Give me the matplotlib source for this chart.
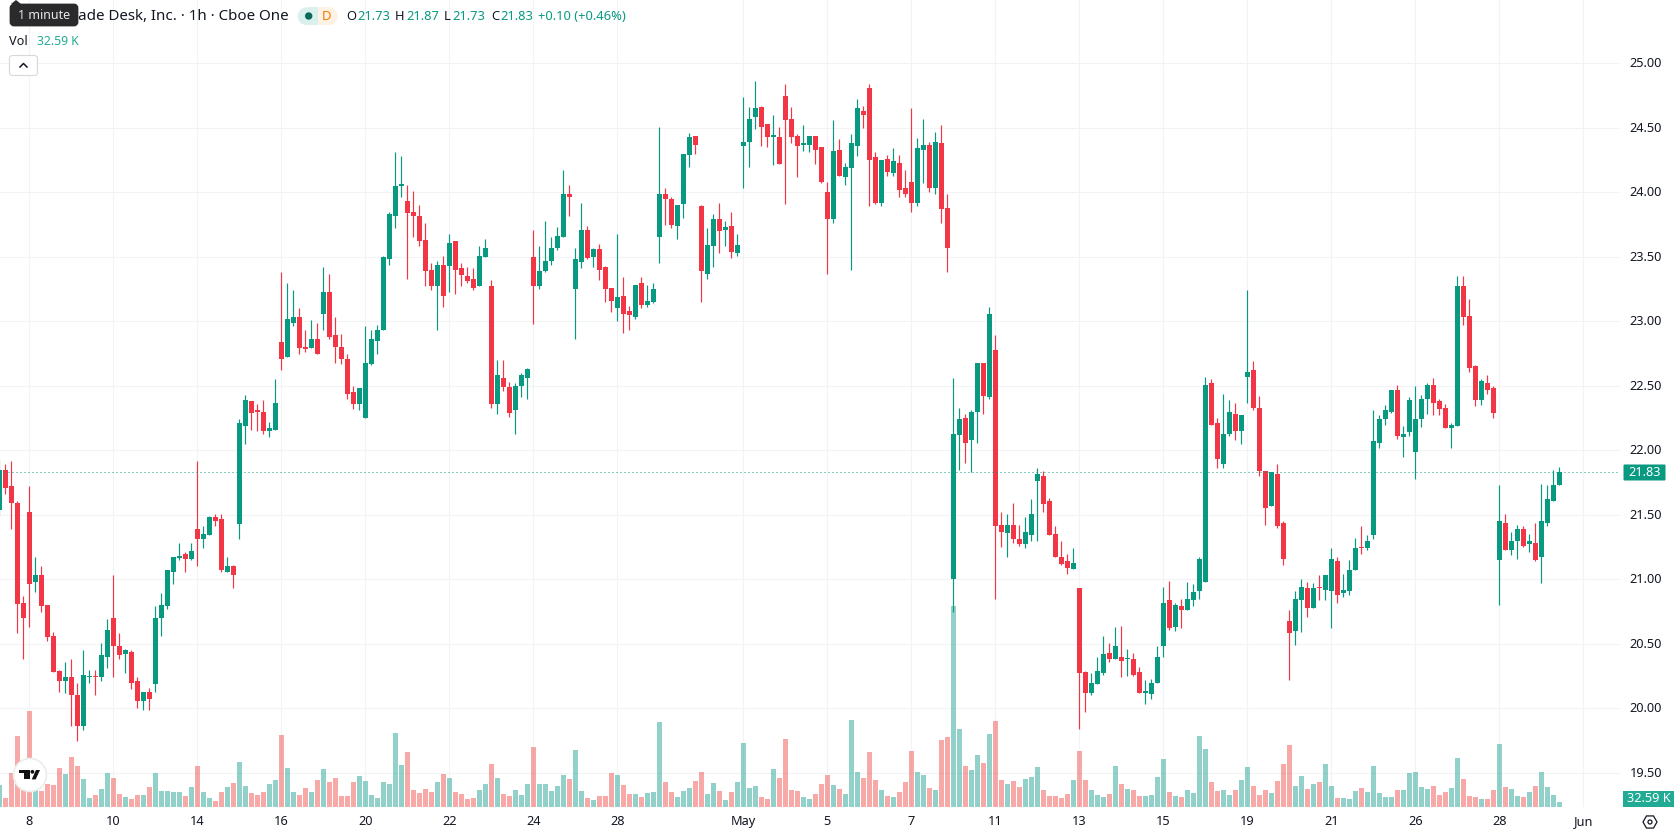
import matplotlib
matplotlib.use('Agg')
import numpy as np
import matplotlib.pyplot as plt
from matplotlib.patches import Rectangle, FancyBboxPatch, Circle, Polygon, RegularPolygon
from matplotlib.transforms import ScaledTranslation

plt.rcParams['font.family'] = ['Noto Sans', 'DejaVu Sans']

opens = [21.54, 21.85, 21.72, 21.59, 20.82, 21.52, 20.98, 21.03, 20.80, 20.56, 20.29, 20.21, 20.24, 20.10, 19.86, 20.24, 20.25, 20.24, 20.40, 20.70,
         20.48, 20.42, 20.44, 20.21, 20.06, 20.13, 20.19, 20.70, 20.79, 21.06, 21.17, 21.20, 21.16, 21.39, 21.31, 21.34, 21.48, 21.47, 21.06, 21.10,
         21.43, 22.19, 22.38, 22.31, 22.30, 22.15, 22.16, 22.84, 22.72, 22.99, 23.03, 22.80, 22.79, 22.86, 23.06, 23.23, 22.89, 22.80, 22.71, 22.45,
         22.36, 22.25, 22.67, 22.85, 22.93, 23.48, 23.82, 24.05, 23.93, 23.85, 23.82, 23.63, 23.40, 23.27, 23.44, 23.43, 23.62, 23.41, 23.35, 23.33,
         23.27, 23.50, 23.27, 22.36, 22.56, 22.49, 22.31, 22.50, 22.56, 23.50, 23.27, 23.39, 23.47, 23.57, 23.65, 23.99, 23.25, 23.46, 23.71, 23.50,
         23.56, 23.42, 23.26, 23.10, 23.20, 23.08, 23.03, 23.30, 23.13, 23.15, 23.65, 23.99, 23.95, 23.74, 23.91, 24.29, 24.44, 23.89, 23.37, 23.58,
         23.79, 23.71, 23.74, 23.53, 24.36, 24.39, 24.58, 24.66, 24.53, 24.43, 24.43, 24.75, 24.57, 24.44, 24.37, 24.37, 24.44, 24.35, 24.00, 23.79,
         24.33, 24.12, 24.19, 24.36, 24.63, 24.81, 24.27, 23.92, 24.26, 24.15, 24.23, 24.03, 24.08, 23.92, 24.33, 24.37, 24.03, 24.38, 23.88, 21.00,
         22.12, 22.25, 22.08, 22.30, 22.68, 22.41, 22.78, 21.42, 21.36, 21.42, 21.31, 21.27, 21.34, 21.76, 21.80, 21.61, 21.35, 21.17, 21.14, 21.08,
         20.93, 20.28, 20.12, 20.19, 20.27, 20.43, 20.38, 20.40, 20.38, 20.38, 20.28, 20.12, 20.11, 20.20, 20.48, 20.84, 20.63, 20.79, 20.76, 20.84,
         20.91, 20.98, 22.52, 22.21, 21.89, 22.13, 22.28, 22.15, 22.57, 22.62, 22.33, 21.84, 21.57, 21.82, 21.44, 20.68, 20.60, 20.84, 20.93, 20.78,
         20.94, 20.92, 20.91, 21.14, 20.89, 20.91, 21.07, 21.25, 21.24, 21.34, 22.06, 22.24, 22.30, 22.47, 22.10, 22.14, 21.99, 22.24, 22.40, 22.51,
         22.38, 22.33, 22.17, 22.19, 23.27, 23.04, 22.65, 22.39, 22.52, 22.48, 21.15, 21.44, 21.23, 21.30, 21.39, 21.27, 21.28, 21.17, 21.44, 21.61, 21.73]
highs = [21.93, 21.89, 21.92, 21.61, 20.87, 21.72, 21.17, 21.10, 20.80, 20.59, 20.30, 20.36, 20.38, 20.20, 20.45, 20.30, 20.30, 20.51, 20.69, 21.03,
         20.58, 20.46, 20.45, 20.24, 20.13, 20.16, 20.79, 20.89, 21.07, 21.17, 21.28, 21.21, 21.28, 21.92, 21.41, 21.49, 21.51, 21.51, 21.17, 21.11,
         22.24, 22.43, 22.38, 22.36, 22.39, 22.22, 22.55, 23.38, 23.30, 23.24, 23.10, 22.93, 23.01, 22.99, 23.42, 23.37, 23.03, 22.90, 22.75, 22.50,
         22.48, 22.96, 22.93, 22.97, 23.51, 23.85, 24.31, 24.28, 24.06, 24.01, 23.90, 23.76, 23.45, 23.47, 23.51, 23.68, 23.62, 23.45, 23.42, 23.41,
         23.58, 23.64, 23.32, 22.70, 22.70, 22.53, 22.52, 22.60, 22.64, 23.71, 23.58, 23.78, 23.65, 23.73, 24.17, 24.06, 23.57, 23.92, 23.74, 23.57,
         23.60, 23.43, 23.26, 23.68, 23.34, 23.12, 23.28, 23.34, 23.28, 23.30, 24.51, 24.03, 23.96, 23.90, 24.30, 24.46, 24.44, 23.90, 23.72, 23.83,
         23.92, 23.78, 23.85, 23.68, 24.74, 24.66, 24.86, 24.67, 24.53, 24.60, 24.51, 24.84, 24.66, 24.45, 24.52, 24.44, 24.44, 24.35, 24.08, 24.56,
         24.41, 24.23, 24.45, 24.72, 24.67, 24.84, 24.31, 24.25, 24.29, 24.34, 24.29, 24.17, 24.65, 24.42, 24.57, 24.39, 24.47, 24.52, 23.99, 22.56,
         22.33, 22.28, 22.31, 22.68, 22.68, 23.11, 22.89, 21.52, 21.51, 21.59, 21.42, 21.48, 21.62, 21.86, 21.84, 21.63, 21.41, 21.30, 21.20, 21.24,
         20.93, 20.29, 20.27, 20.40, 20.56, 20.51, 20.63, 20.64, 20.46, 20.43, 20.32, 20.22, 20.23, 20.48, 20.94, 20.99, 20.82, 20.85, 20.98, 20.96,
         21.17, 22.57, 22.55, 22.25, 22.44, 22.39, 22.37, 22.27, 23.24, 22.69, 22.42, 21.84, 21.83, 21.89, 21.45, 20.76, 20.91, 21.00, 20.98, 20.97,
         21.03, 21.03, 21.24, 21.17, 21.04, 21.15, 21.32, 21.41, 21.34, 22.31, 22.27, 22.35, 22.47, 22.51, 22.19, 22.41, 22.50, 22.43, 22.52, 22.56,
         22.40, 22.36, 22.21, 23.35, 23.35, 23.17, 22.66, 22.55, 22.58, 22.50, 21.73, 21.51, 21.37, 21.42, 21.41, 21.35, 21.44, 21.74, 21.73, 21.85, 21.87]
lows = [21.50, 21.66, 21.39, 20.58, 20.38, 20.63, 20.90, 20.75, 20.52, 20.28, 20.13, 20.12, 19.86, 19.75, 19.83, 20.20, 20.10, 20.21, 20.31, 20.24,
        20.38, 20.27, 20.15, 20.00, 19.99, 19.99, 20.13, 20.56, 20.77, 20.96, 21.15, 21.06, 21.15, 21.10, 21.24, 21.34, 21.41, 21.06, 21.06, 20.93,
        21.31, 22.05, 22.16, 22.15, 22.13, 22.10, 22.16, 22.62, 22.72, 22.96, 22.75, 22.76, 22.79, 22.75, 22.93, 22.86, 22.68, 22.67, 22.40, 22.32,
        22.31, 22.25, 22.66, 22.75, 22.93, 23.44, 23.72, 23.96, 23.33, 23.65, 23.58, 23.27, 23.24, 22.93, 23.11, 23.23, 23.21, 23.27, 23.30, 23.24,
        23.27, 23.50, 22.33, 22.28, 22.46, 22.26, 22.13, 22.41, 22.40, 22.98, 23.25, 23.38, 23.44, 23.55, 23.65, 23.82, 22.86, 23.41, 23.48, 23.42,
        23.32, 23.15, 23.07, 23.00, 22.91, 22.93, 23.02, 23.10, 23.11, 23.14, 23.45, 23.75, 23.72, 23.64, 23.80, 24.20, 24.30, 23.15, 23.33, 23.42,
        23.53, 23.58, 23.49, 23.51, 24.03, 24.20, 24.49, 24.36, 24.35, 24.21, 24.22, 23.91, 24.38, 24.12, 24.32, 24.31, 24.22, 24.07, 23.37, 23.76,
        24.13, 24.06, 23.40, 24.28, 24.50, 23.89, 23.91, 23.89, 24.13, 24.13, 23.96, 23.96, 23.85, 23.89, 24.07, 24.00, 23.99, 23.76, 23.38, 20.75,
        21.85, 21.90, 21.83, 22.06, 22.28, 22.40, 20.85, 21.25, 21.17, 21.28, 21.26, 21.24, 21.30, 21.30, 21.52, 21.34, 21.17, 21.11, 21.04, 21.08,
        19.84, 19.97, 20.10, 20.19, 20.26, 20.36, 20.38, 20.24, 20.25, 20.25, 20.12, 20.03, 20.07, 20.20, 20.40, 20.61, 20.60, 20.62, 20.76, 20.79,
        20.85, 20.98, 22.20, 21.86, 21.86, 22.11, 22.08, 22.05, 22.37, 22.31, 21.80, 21.42, 21.57, 21.40, 21.11, 20.22, 20.49, 20.59, 20.71, 20.78,
        20.84, 20.84, 20.62, 20.82, 20.86, 20.88, 21.07, 21.20, 21.23, 21.31, 22.02, 22.20, 22.29, 22.09, 21.95, 22.11, 21.78, 22.18, 22.28, 22.27,
        22.27, 22.17, 22.02, 22.19, 22.97, 22.61, 22.34, 22.35, 22.44, 22.25, 20.80, 21.23, 21.19, 21.16, 21.25, 21.21, 21.14, 20.97, 21.41, 21.61, 21.73]
closes = [21.85, 21.71, 21.59, 20.81, 20.70, 20.96, 21.03, 20.79, 20.55, 20.28, 20.21, 20.24, 20.10, 19.86, 20.26, 20.25, 20.24, 20.41, 20.61, 20.48,
          20.41, 20.45, 20.20, 20.06, 20.13, 20.07, 20.70, 20.80, 21.07, 21.17, 21.18, 21.16, 21.22, 21.31, 21.35, 21.48, 21.45, 21.07, 21.10, 21.03,
          22.21, 22.39, 22.29, 22.30, 22.15, 22.17, 22.37, 22.71, 23.02, 23.03, 22.79, 22.79, 22.86, 22.75, 23.23, 22.88, 22.80, 22.71, 22.44, 22.36,
          22.48, 22.68, 22.86, 22.93, 23.50, 23.83, 24.05, 24.06, 23.84, 23.82, 23.62, 23.39, 23.27, 23.44, 23.20, 23.61, 23.40, 23.36, 23.31, 23.26,
          23.51, 23.57, 22.36, 22.58, 22.49, 22.29, 22.50, 22.58, 22.63, 23.27, 23.39, 23.47, 23.57, 23.66, 23.99, 23.96, 23.48, 23.71, 23.49, 23.56,
          23.40, 23.25, 23.16, 23.19, 23.06, 23.05, 23.28, 23.13, 23.16, 23.25, 23.99, 23.95, 23.75, 23.90, 24.30, 24.43, 24.37, 23.39, 23.59, 23.79,
          23.70, 23.73, 23.54, 23.59, 24.39, 24.57, 24.65, 24.51, 24.43, 24.44, 24.22, 24.56, 24.43, 24.36, 24.38, 24.44, 24.33, 24.08, 23.79, 24.32,
          24.13, 24.20, 24.38, 24.65, 24.60, 24.25, 23.92, 24.25, 24.16, 24.24, 24.02, 23.99, 23.92, 24.34, 24.37, 24.03, 24.39, 23.87, 23.57, 22.13,
          22.24, 22.06, 22.30, 22.68, 22.42, 23.06, 21.41, 21.37, 21.42, 21.31, 21.27, 21.37, 21.51, 21.82, 21.58, 21.34, 21.17, 21.12, 21.09, 21.13,
          20.27, 20.12, 20.20, 20.29, 20.42, 20.38, 20.48, 20.37, 20.39, 20.26, 20.12, 20.13, 20.20, 20.40, 20.82, 20.62, 20.80, 20.76, 20.85, 20.90,
          21.16, 22.51, 22.20, 21.93, 22.13, 22.30, 22.15, 22.27, 22.61, 22.33, 21.84, 21.55, 21.83, 21.41, 21.16, 20.58, 20.85, 20.94, 20.78, 20.93,
          20.93, 21.03, 21.16, 20.88, 20.92, 21.07, 21.24, 21.24, 21.30, 22.07, 22.24, 22.31, 22.47, 22.11, 22.13, 22.39, 22.24, 22.40, 22.51, 22.37,
          22.32, 22.17, 22.20, 23.27, 23.03, 22.64, 22.39, 22.54, 22.47, 22.29, 21.45, 21.23, 21.30, 21.39, 21.26, 21.30, 21.15, 21.45, 21.62, 21.73, 21.83]
volumes_k = [143, 59, 221, 462, 221, 625, 143, 104, 150, 143, 254, 215, 326, 267, 182, 59, 78, 117, 221, 189,
             85, 65, 52, 78, 78, 130, 221, 104, 104, 98, 98, 72, 130, 267, 98, 59, 39, 98, 130, 156,
             293, 137, 91, 78, 98, 150, 176, 469, 254, 98, 78, 124, 98, 176, 247, 163, 189, 72, 72, 163,
             202, 169, 78, 59, 163, 150, 482, 273, 358, 111, 91, 117, 98, 163, 215, 189, 98, 85, 52, 59,
             111, 150, 280, 189, 85, 72, 111, 78, 150, 391, 150, 150, 104, 137, 208, 182, 371, 104, 59, 46,
             72, 72, 221, 208, 143, 85, 85, 65, 91, 98, 553, 163, 98, 65, 104, 124, 169, 228, 85, 156,
             104, 46, 98, 163, 417, 124, 137, 65, 52, 247, 189, 443, 111, 104, 65, 52, 85, 150, 208, 143,
             117, 85, 566, 228, 189, 358, 176, 111, 72, 65, 98, 163, 365, 228, 208, 124, 111, 436, 456, 1315,
             508, 267, 241, 339, 286, 475, 560, 176, 150, 169, 130, 182, 195, 260, 111, 72, 72, 59, 85, 176,
             365, 176, 111, 78, 65, 85, 267, 150, 117, 111, 72, 72, 78, 195, 312, 98, 72, 65, 111, 91,
             462, 378, 163, 104, 111, 78, 111, 176, 260, 137, 78, 111, 91, 169, 280, 404, 137, 202, 117, 150,
             163, 280, 137, 59, 59, 52, 104, 124, 98, 267, 91, 65, 65, 111, 111, 221, 228, 130, 117, 137,
             78, 98, 124, 319, 182, 72, 65, 52, 52, 111, 410, 130, 117, 72, 65, 98, 137, 228, 130, 78, 32.59]

date_positions = [5, 19, 33, 47, 61, 75, 89, 103, 124, 138, 152, 166, 180, 194, 208, 222, 236, 250, 264]
date_labels = ['8', '10', '14', '16', '20', '22', '24', '28', 'May', '5', '7', '11', '13', '15', '19', '21', '26', '28', 'Jun']
price_ticks = [19.5, 20.0, 20.5, 21.0, 21.5, 22.0, 22.5, 23.0, 23.5, 24.0, 24.5, 25.0]
last_price = 21.83

GREEN = '#089981'
RED = '#F23645'
VOL_GREEN = '#0D9B89'
VOL_RED = '#ED403C'
INK = '#131722'
GRID = '#F2F3F5'

W, H = 1678, 835
fig = plt.figure(figsize=(W / 100, H / 100), dpi=100, facecolor='white')

opens = np.array(opens)
closes = np.array(closes)
highs = np.array(highs)
lows = np.array(lows)
idx = np.arange(len(opens))
up = closes >= opens
colors = np.where(up, GREEN, RED)
vol_colors = np.where(up, VOL_GREEN, VOL_RED)

rect = [0, (H - 807.3) / H, 1620 / W, 807.3 / H]
xlim = (0.117, 270.117)
ylim = (19.2326, 25.4907)

# price axes: grid and tick labels only
ax = fig.add_axes(rect, zorder=1)
ax.set_xlim(*xlim)
ax.set_ylim(*ylim)
ax.set_xticks(date_positions)
ax.set_xticklabels(date_labels)
ax.yaxis.tick_right()
ax.set_yticks(price_ticks)
ax.set_yticklabels([f'{p:.2f}' for p in price_ticks])
ax.tick_params(axis='both', length=0, labelsize=9.2, labelcolor=INK)
ax.tick_params(axis='x', pad=5.5)
ax.tick_params(axis='y', pad=7)
for lab in ax.get_xticklabels():
    if lab.get_text() in ('May', 'Jun'):
        lab.set_fontweight('bold')
up_1px = ScaledTranslation(0, 1 / 100, fig.dpi_scale_trans)
for lab in ax.get_yticklabels():
    lab.set_transform(lab.get_transform() + up_1px)
ax.grid(True, color=GRID, linewidth=0.8)
ax.set_axisbelow(True)
for s in ax.spines.values():
    s.set_visible(False)

# volume histogram on its own scale
ax_v = fig.add_axes(rect, zorder=2, facecolor='none')
ax_v.set_xlim(*xlim)
ax_v.set_ylim(0, 5261)
ax_v.axis('off')
ax_v.bar(idx, volumes_k, width=5 / 6, color=vol_colors, alpha=0.45, linewidth=0)

# candles
ax_c = fig.add_axes(rect, zorder=3, facecolor='none')
ax_c.set_xlim(*xlim)
ax_c.set_ylim(*ylim)
ax_c.axis('off')
ax_c.vlines(idx, lows, highs, colors=colors, linewidth=0.85)
ax_c.bar(idx, np.abs(closes - opens), bottom=np.minimum(opens, closes), width=5 / 6, color=colors, linewidth=0)
ax_c.bar(idx, 0.012, bottom=(opens + closes) / 2 - 0.006, width=5 / 6, color=colors, linewidth=0)
ax_c.axhline(last_price, color=GREEN, linewidth=0.72, linestyle=(0, (1, 3)))

# overlay in pixel coordinates for the legend and the badges
ov = fig.add_axes([0, 0, 1, 1], zorder=5, facecolor='none')
ov.set_xlim(0, W)
ov.set_ylim(H, 0)
ov.axis('off')

# legend line
ov.text(289, 16.5, 'ade Desk, Inc. · 1h · Cboe One', ha='right', va='center', fontsize=10.9, color=INK)
ov.add_patch(FancyBboxPatch((11, 5), 66, 20, boxstyle='round,pad=0,rounding_size=3', fc='#2A2A2C', ec='#2A2A2C', lw=2))
ov.add_patch(Polygon([(11, 4), (16, 0), (21, 4)], fc='#2A2A2C', ec='none'))
ov.text(44, 15.5, '1 minute', ha='center', va='center', fontsize=9, color='#E8E8E8')

# session status pill
ov.add_patch(Rectangle((307, 7.3), 11, 17.7, fc='#DAF0EC', ec='none'))
ov.add_patch(Circle((306.5, 16.2), 8.85, fc='#DAF0EC', ec='none'))
ov.add_patch(Rectangle((318, 7.3), 11, 17.7, fc='#FEF2E4', ec='none'))
ov.add_patch(Circle((329, 16.2), 8.85, fc='#FEF2E4', ec='none'))
ov.add_patch(Circle((308.7, 16), 3.7, fc='#0B6B5B', ec='none'))
ov.text(326.7, 16.5, 'D', ha='center', va='center', fontsize=9.5, fontweight='medium', color='#F57C00')

ohlc_parts = [(346, 'O', INK), (357, '21.73', GREEN), (395, 'H', INK), (406, '21.87', GREEN),
              (444, 'L', INK), (452, '21.73', GREEN), (491, 'C', INK), (500, '21.83', GREEN),
              (538, '+0.10 (+0.46%)', GREEN)]
for x, s, c in ohlc_parts:
    ov.text(x, 16.5, s, ha='left', va='center', fontsize=9.3, color=c)

ov.text(9, 41.5, 'Vol', ha='left', va='center', fontsize=9.2, color=INK)
ov.text(37, 41.5, '32.59 K', ha='left', va='center', fontsize=8.8, color='#22AB94')

# collapse button
ov.add_patch(FancyBboxPatch((9.5, 55.5), 28, 20, boxstyle='round,pad=0,rounding_size=3', fc='white', ec='#D6D8DD', lw=0.8))
ov.plot([20, 23.5, 27], [67, 63.5, 67], color=INK, lw=1.1)

# logo badge
ov.add_patch(Circle((30, 775), 16.5, fc='white', ec='#ECECEC', lw=1.2))
ov.add_patch(Polygon([(19, 770), (30, 770), (30, 779.4), (24.3, 779.4), (24.3, 773.4), (19, 773.4)], fc='#111111', ec='none'))
ov.add_patch(Circle((32.4, 771.8), 1.9, fc='#111111', ec='none'))
ov.add_patch(Polygon([(31.7, 779.4), (35.7, 779.4), (40, 770), (36, 770)], fc='#111111', ec='none'))

# last price and last volume badges
ov.add_patch(FancyBboxPatch((1623.5, 464.5), 42, 16, boxstyle='round,pad=0,rounding_size=1', fc=GREEN, ec='none'))
ov.text(1644.6, 472.5, '21.83', ha='center', va='center', fontsize=9.2, color='white')
ov.add_patch(Rectangle((1623, 791), 51, 16.3, fc='#22AB94', ec='none'))
ov.text(1648.5, 799, '32.59 K', ha='center', va='center', fontsize=9.2, color='white')

# settings icon
ov.add_patch(RegularPolygon((1650, 822), 6, radius=7, orientation=np.pi / 6, fc='white', ec=INK, lw=0.9))
ov.add_patch(Circle((1650, 822), 2, fc='white', ec=INK, lw=0.9))

fig.savefig('out.png', dpi=100, facecolor='white')
